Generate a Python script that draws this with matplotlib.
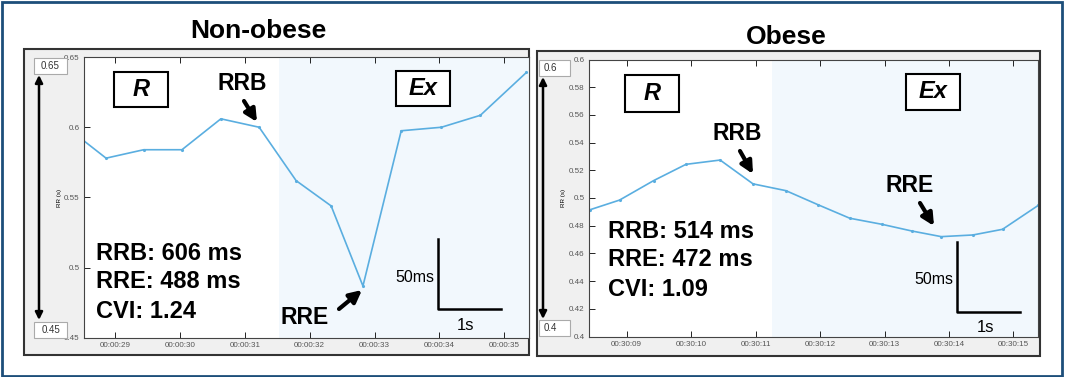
import matplotlib
matplotlib.use("Agg")
import matplotlib.pyplot as plt
from matplotlib.patches import Rectangle, FancyArrowPatch
from matplotlib.lines import Line2D
from matplotlib.ticker import FuncFormatter

plt.rcParams['font.family'] = ['Liberation Sans', 'DejaVu Sans']

# non-obese panel (time in s after 00:00:00, RR in s)
left_t = [28.5, 28.86, 29.44, 30.03, 30.63, 31.22, 31.79, 32.33, 32.82, 33.41, 34.03, 34.63, 35.34]
left_rr = [0.591, 0.578, 0.584, 0.584, 0.606, 0.600, 0.562, 0.544, 0.487, 0.5975, 0.600, 0.6085, 0.639]
left_xticks = [29, 30, 31, 32, 33, 34, 35]
left_yticks = [0.45, 0.5, 0.55, 0.6, 0.65]
left_ex_start = 31.52
left_stats = ["RRB: 606 ms", "RRE: 488 ms", "CVI: 1.24"]

# obese panel (time in s after 00:30:00)
right_t = [8.43, 8.89, 9.42, 9.92, 10.45, 10.96, 11.47, 11.97, 12.46, 12.96, 13.42, 13.88, 14.37, 14.83, 15.385]
right_rr = [0.4915, 0.4985, 0.5126, 0.5243, 0.5274, 0.5102, 0.5053, 0.4951, 0.4854, 0.481, 0.4762, 0.4721, 0.4733, 0.4774, 0.4947]
right_xticks = [9, 10, 11, 12, 13, 14, 15]
right_yticks = [0.4, 0.42, 0.44, 0.46, 0.48, 0.5, 0.52, 0.54, 0.56, 0.58, 0.6]
right_ex_start = 11.26
right_stats = ["RRB: 514 ms", "RRE: 472 ms", "CVI: 1.09"]

W, H = 1065, 377
LINE = '#5aaee0'
SHADE = '#f2f8fd'

fig = plt.figure(figsize=(W / 100, H / 100), dpi=100)


def fx(x):
    return x / W


def fy(y):
    return 1 - y / H


def rect_px(x0, y0, x1, y1, **kw):
    r = Rectangle((fx(x0), fy(y1)), (x1 - x0) / W, (y1 - y0) / H,
                  transform=fig.transFigure, **kw)
    fig.add_artist(r)
    return r


def text_px(x, y, s, **kw):
    fig.text(fx(x), fy(y), s, **kw)


def arrow_px(p0, p1, style='-|>', lw=3, ms=18):
    a = FancyArrowPatch((fx(p0[0]), fy(p0[1])), (fx(p1[0]), fy(p1[1])),
                        transform=fig.transFigure, arrowstyle=style,
                        mutation_scale=ms, lw=lw, color='k', shrinkA=0, shrinkB=0)
    fig.add_artist(a)


def line_px(xs, ys, lw=1.8):
    fig.add_artist(Line2D([fx(x) for x in xs], [fy(y) for y in ys],
                          transform=fig.transFigure, color='k', lw=lw))


def panel(frame, ax_px, t, rr, xticks, yticks, ytick_fmt, hh, ex_start, xlim, ylim):
    rect_px(*frame, facecolor='#f0f0f0', edgecolor='#333333', lw=1.5, zorder=0)
    x0, y0, x1, y1 = ax_px
    ax = fig.add_axes([fx(x0), fy(y1), (x1 - x0) / W, (y1 - y0) / H])
    ax.set_facecolor('white')
    ax.axvspan(ex_start, xlim[1], color=SHADE, lw=0, zorder=0)
    ax.plot(t, rr, color=LINE, lw=1.2, marker='.', ms=2.5, zorder=2)
    ax.set_xlim(*xlim)
    ax.set_ylim(*ylim)
    ax.set_xticks(xticks)
    ax.xaxis.set_major_formatter(FuncFormatter(lambda v, p: "00:%02d:%02d" % (hh, v)))
    ax.set_yticks(yticks)
    ax.yaxis.set_major_formatter(FuncFormatter(ytick_fmt))
    ax.tick_params(direction='in', length=4, width=0.6, labelsize=5.8,
                   labelcolor='#555555', top=True, pad=3)
    for s in ax.spines.values():
        s.set_linewidth(0.8)
        s.set_color('#444444')
    return ax


def fmt(v, p):
    return ("%.2f" % v).rstrip('0').rstrip('.') if v != 0 else "0"


# outer blue frame
rect_px(2, 2, 1062, 376, facecolor='none', edgecolor='#1d4e7a', lw=2)

# ---- left panel ----
panel((24, 49, 529, 355), (84, 57, 529, 338), left_t, left_rr, left_xticks,
      left_yticks, fmt, 0, left_ex_start, (28.52, 35.38), (0.45, 0.65))
text_px(258, 31, "Non-obese", fontsize=19, fontweight='bold', ha='center', va='center')
for lab, yy in [("0.65", 66), ("0.45", 330)]:
    rect_px(34, yy - 8, 67, yy + 8, facecolor='white', edgecolor='#aaaaaa', lw=0.8)
    text_px(50.5, yy, lab, fontsize=7, ha='center', va='center', color='#333333')
arrow_px((39, 75), (39, 320), style='<|-|>', lw=1.8, ms=11)
text_px(59, 198, "RR (s)", fontsize=4.5, rotation=90, ha='center', va='center')
for (bx0, by0, bx1, by1, s) in [(114, 72, 168, 107, "R"), (396, 71, 450, 106, "Ex")]:
    rect_px(bx0, by0, bx1, by1, facecolor='white', edgecolor='k', lw=1.5, zorder=3)
    text_px((bx0 + bx1) / 2, (by0 + by1) / 2, s, fontsize=17, fontweight='bold',
            fontstyle='italic', ha='center', va='center', zorder=4)
text_px(242, 83, "RRB", fontsize=16.5, fontweight='bold', ha='center', va='center')
arrow_px((244, 101), (257, 122))
text_px(305, 318, "RRE", fontsize=16.5, fontweight='bold', ha='center', va='center')
arrow_px((339, 309), (362, 290))
for s, yy in zip(left_stats, [254, 282, 311]):
    text_px(96, yy, s, fontsize=17, fontweight='bold', ha='left', va='center')
line_px([438, 438, 501], [239, 309, 309])
text_px(434, 277, "50ms", fontsize=11.5, ha='right', va='center')
text_px(466, 325, "1s", fontsize=12, ha='center', va='center')

# ---- right panel ----
panel((537, 51, 1040, 356), (589, 59.5, 1038, 336.5), right_t, right_rr, right_xticks,
      right_yticks, fmt, 30, right_ex_start, (8.416, 15.38), (0.4, 0.6))
text_px(786, 37, "Obese", fontsize=19, fontweight='bold', ha='center', va='center')
for lab, yy in [("0.6", 68), ("0.4", 328)]:
    rect_px(538.5, yy - 8, 570, yy + 8, facecolor='white', edgecolor='#aaaaaa', lw=0.8)
    text_px(550, yy, lab, fontsize=7, ha='center', va='center', color='#333333')
arrow_px((543, 77), (543, 319), style='<|-|>', lw=1.8, ms=11)
text_px(564, 198, "RR (s)", fontsize=4.5, rotation=90, ha='center', va='center')
for (bx0, by0, bx1, by1, s) in [(625, 75, 679, 112, "R"), (906, 74, 960, 110, "Ex")]:
    rect_px(bx0, by0, bx1, by1, facecolor='white', edgecolor='k', lw=1.5, zorder=3)
    text_px((bx0 + bx1) / 2, (by0 + by1) / 2, s, fontsize=17, fontweight='bold',
            fontstyle='italic', ha='center', va='center', zorder=4)
text_px(737, 133, "RRB", fontsize=16.5, fontweight='bold', ha='center', va='center')
arrow_px((740, 151), (753, 174))
text_px(910, 185, "RRE", fontsize=16.5, fontweight='bold', ha='center', va='center')
arrow_px((920, 203), (934, 226))
for s, yy in zip(right_stats, [232, 260, 289]):
    text_px(608, yy, s, fontsize=17, fontweight='bold', ha='left', va='center')
line_px([957, 957, 1020], [242, 312, 312])
text_px(953, 280, "50ms", fontsize=11.5, ha='right', va='center')
text_px(985, 327, "1s", fontsize=12, ha='center', va='center')

fig.savefig("out.png", dpi=100)
